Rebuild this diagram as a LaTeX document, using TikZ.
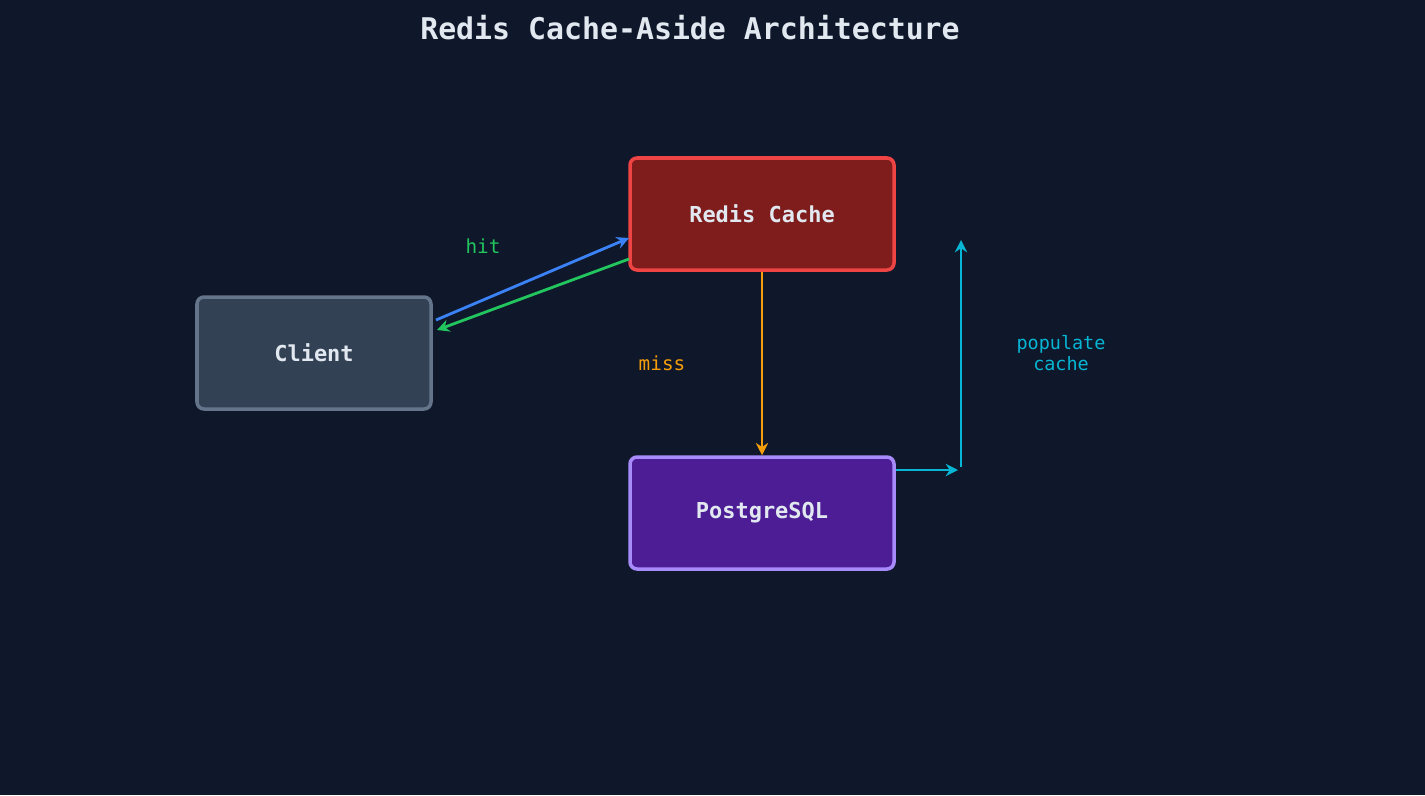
\documentclass[tikz,border=0pt]{standalone}
\usepackage{fontspec}
\setmonofont{DejaVu Sans Mono}
\usetikzlibrary{arrows.meta}
\definecolor{bg}{HTML}{0F172A}
\definecolor{txt}{HTML}{E2E8F0}
\definecolor{cfill}{HTML}{334155}\definecolor{cbord}{HTML}{64748B}
\definecolor{rfill}{HTML}{7F1D1D}\definecolor{rbord}{HTML}{EF4444}
\definecolor{pfill}{HTML}{4C1D95}\definecolor{pbord}{HTML}{A78BFA}
\definecolor{cblue}{HTML}{3B82F6}\definecolor{cgreen}{HTML}{22C55E}
\definecolor{corange}{HTML}{F59E0B}\definecolor{ccyan}{HTML}{06B6D4}
\begin{document}
\begin{tikzpicture}[x=0.02cm,y=-0.02cm,
 box/.style={draw,line width=2pt,rounded corners=4pt,minimum width=264*0.02cm,minimum height=112*0.02cm,text=txt,font=\ttfamily\bfseries\fontsize{12.5}{14}\selectfont},
 arr/.style={line width=1.6pt,-{Stealth[length=7pt,width=7pt]}},
 lbl/.style={font=\ttfamily\fontsize{11}{12}\selectfont,align=center}]
\fill[bg] (0,0) rectangle (1425,795);
\useasboundingbox (0,0) rectangle (1425,795);
\node[font=\ttfamily\bfseries\fontsize{17}{20}\selectfont,text=txt] (title) at (690,28) {Redis Cache-Aside Architecture};
\node[box,fill=cfill,draw=cbord,minimum width=234*0.02cm] (client) at (314,353) {Client};
\node[box,fill=rfill,draw=rbord] (redis) at (762,214) {Redis Cache};
\node[box,fill=pfill,draw=pbord] (pg) at (762,513) {PostgreSQL};
\coordinate (c1) at (436,320); \coordinate (r1) at (629,238);
\coordinate (r2) at (629,259); \coordinate (c2) at (437,330);
\draw[arr,cblue] (c1) -- (r1);
\draw[arr,cgreen] (r2) -- (c2);
\draw[arr,corange] (redis.south) -- (pg.north);
\coordinate (p1) at (896,470); \coordinate (p2) at (958,470);
\coordinate (u1) at (961,467); \coordinate (u2) at (961,240);
\draw[arr,ccyan] (p1) -- (p2);
\draw[arr,ccyan] (u1) -- (u2);
\node[lbl,text=cgreen] (hit) at (483,246) {hit};
\node[lbl,text=corange] (miss) at (662,363) {miss};
\node[lbl,text=ccyan,font=\ttfamily\fontsize{10.5}{11.5}\selectfont] (pop) at (1061,353) {populate\\cache};
\end{tikzpicture}
\end{document}
